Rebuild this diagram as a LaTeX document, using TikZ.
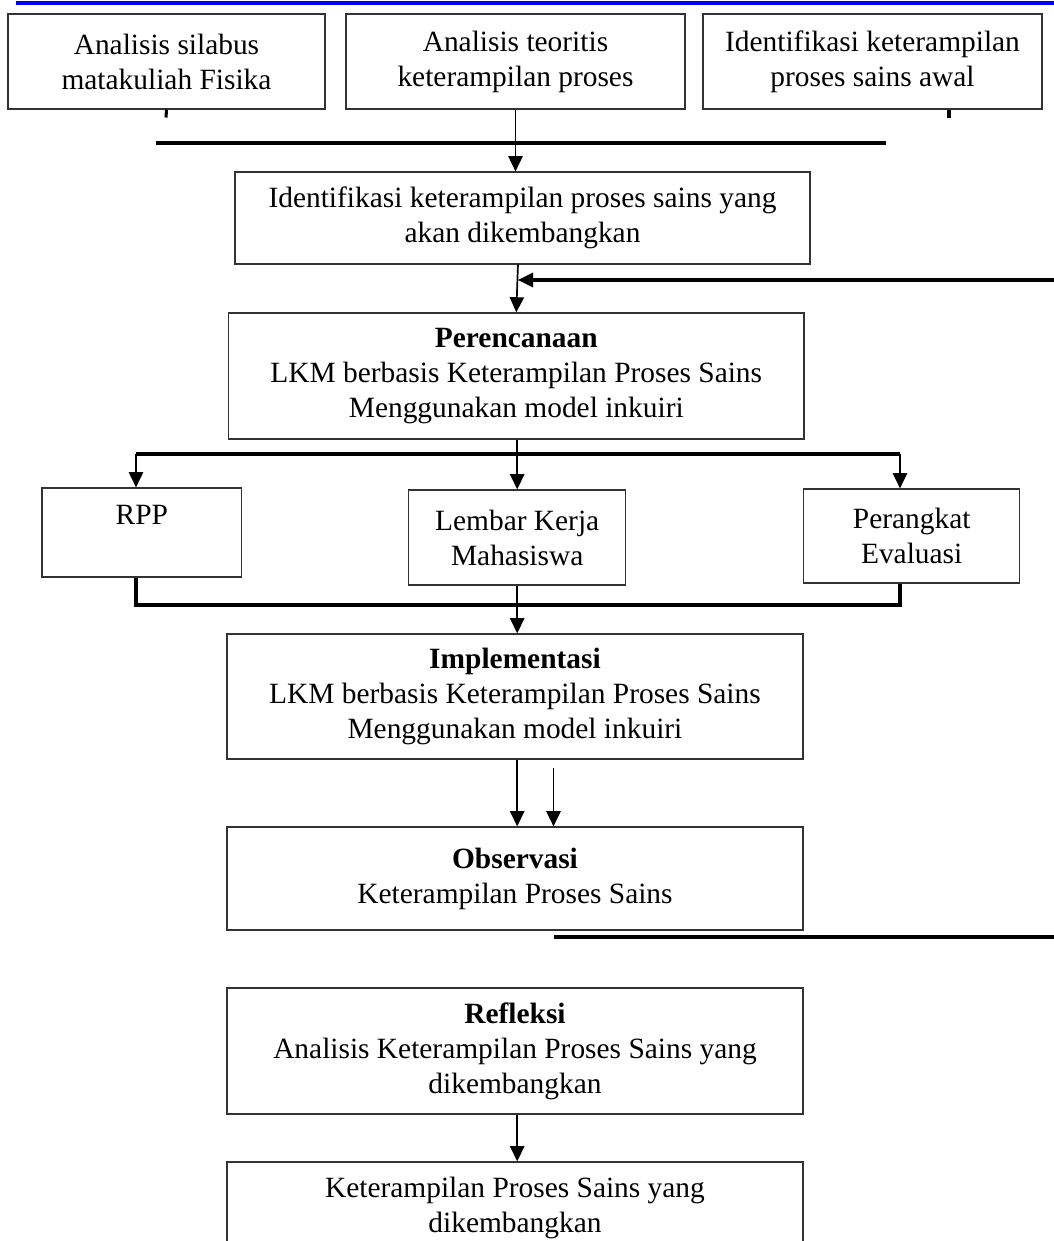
\documentclass[tikz,border=0pt]{standalone}
\usepackage{fontspec}
\setmainfont{Liberation Serif}
\usetikzlibrary{arrows.meta}
\tikzset{
  kotak/.style={draw=black!80, line width=0.5pt, align=center, inner sep=0pt,
    font=\fontsize{12}{14.3}\selectfont},
  panah/.style={line width=0.7pt, -{Triangle[length=6.2pt,width=5.8pt]}},
  tebal/.style={line width=1.25pt}
}

\begin{document}
\begin{tikzpicture}[x=0.01434cm, y=-0.01434cm]
        \useasboundingbox (0,0) rectangle (1054,1241);
        \clip (0,0) rectangle (1054,1241);
        \draw[blue, line width=1.6pt] (16,2.7) -- (1054,2.7);
        \node (silabus) [kotak, minimum width=4.546cm, minimum height=1.362cm] at (166.5, 61.5) {Analisis silabus\\matakuliah Fisika};
        \node (teoritis) [kotak, minimum width=4.861cm, minimum height=1.362cm] at (515.5, 61.5) {Analisis teoritis\\keterampilan proses};
        \node (awal) [kotak, minimum width=4.861cm, minimum height=1.362cm] at (872.5, 61.5) {Identifikasi keterampilan\\proses sains awal};
        \node (identifikasi) [kotak, minimum width=8.246cm, minimum height=1.319cm] at (522.5, 218) {Identifikasi keterampilan proses sains yang\\akan dikembangkan};
        \node (perencanaan) [kotak, minimum width=8.253cm, minimum height=1.807cm] at (516.3, 376) {\textbf{Perencanaan}\\LKM berbasis Keterampilan Proses Sains\\Menggunakan model inkuiri};
        \node (rpp) [kotak, minimum width=2.868cm, minimum height=1.276cm] at (141.9, 532.5) {RPP\\\mbox{}};
        \node (lkm) [kotak, minimum width=3.112cm, minimum height=1.362cm] at (517.2, 537.5) {Lembar Kerja\\Mahasiswa};
        \node (evaluasi) [kotak, minimum width=3.097cm, minimum height=1.348cm] at (911.7, 536) {Perangkat\\Evaluasi};
        \node (implementasi) [kotak, minimum width=8.260cm, minimum height=1.793cm] at (515, 696.5) {\textbf{Implementasi}\\LKM berbasis Keterampilan Proses Sains\\Menggunakan model inkuiri};
        \node (observasi) [kotak, minimum width=8.260cm, minimum height=1.477cm] at (515, 878.5) {\textbf{Observasi}\\Keterampilan Proses Sains};
        \node (refleksi) [kotak, minimum width=8.260cm, minimum height=1.807cm] at (515, 1051) {\textbf{Refleksi}\\Analisis Keterampilan Proses Sains yang\\dikembangkan};
        \node (hasil) [kotak, minimum width=8.260cm, minimum height=1.305cm] at (515, 1207.5) {Keterampilan Proses Sains yang\\dikembangkan};
        % titik bantu
        \coordinate (tickL) at (166, 117.5);
        \coordinate (tickR) at (949, 117.5);
        \coordinate (barL) at (156, 143);
        \coordinate (barR) at (886, 143);
        \coordinate (balikA) at (1060, 280);
        \coordinate (balikB) at (518, 280);
        \coordinate (bagiL) at (136, 454);
        \coordinate (bagiR) at (900, 454);
        \coordinate (kumpulL) at (136, 605);
        \coordinate (kumpulR) at (900, 605);
        \coordinate (kedua) at (553.5, 768);
        \coordinate (garisA) at (554, 937);
        \coordinate (garisB) at (1060, 937);
        % garis dan panah
        \draw[tebal] (silabus.south) -- (tickL);
        \draw[tebal] (awal.south -| tickR) -- (tickR);
        \draw[tebal] (barL) -- (barR);
        \draw[panah] (teoritis.south) -- (teoritis.south |- identifikasi.north);
        \draw[panah] ([xshift=-0.065cm]identifikasi.south) -- (perencanaan.north);
        \draw[panah, tebal] (balikA) -- (balikB);
        \draw[panah] (perencanaan.south -| lkm.north) -- (lkm.north);
        \draw[tebal] (bagiL) -- (bagiR);
        \draw[panah] (bagiL) -- (bagiL |- rpp.north);
        \draw[panah] (bagiR) -- (bagiR |- evaluasi.north);
        \draw[tebal] (bagiL |- rpp.south) -- (kumpulL) -- (kumpulR) -- (bagiR |- evaluasi.south);
        \draw[panah] (lkm.south) -- (lkm.south |- implementasi.north);
        \draw[panah] (implementasi.south -| lkm.south) -- (observasi.north -| lkm.south);
        \draw[panah] (kedua) -- (kedua |- observasi.north);
        \draw[tebal] (garisA) -- (garisB);
        \draw[panah] (refleksi.south -| lkm.south) -- (hasil.north -| lkm.south);
\end{tikzpicture}
\end{document}
